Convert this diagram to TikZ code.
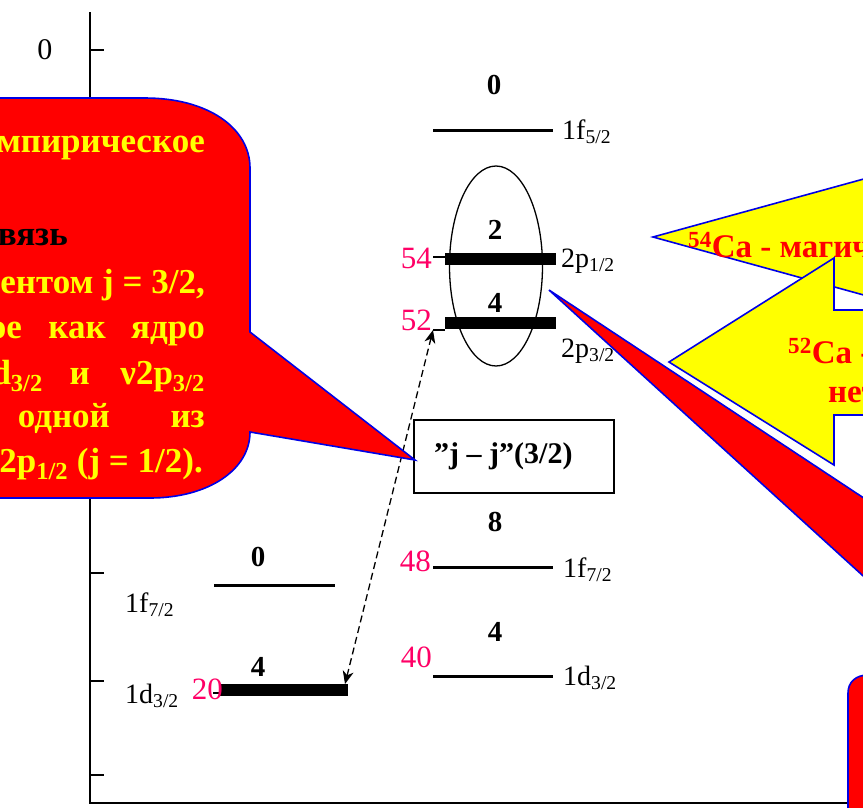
\documentclass[tikz,border=0pt]{standalone}
\usepackage{fontspec}
\setmainfont{Liberation Serif}
\usetikzlibrary{arrows.meta,shapes.geometric}
\definecolor{callred}{RGB}{255,0,0}
\definecolor{callblue}{RGB}{0,0,230}
\definecolor{callyel}{RGB}{255,255,0}
\definecolor{magnum}{RGB}{255,0,102}
\tikzset{
  axisline/.style={line width=1.2pt},
  lvl/.style={line width=3pt},
  lvlbar/.style={line width=12.5pt},
  thinmark/.style={line width=2pt},
  occ/.style={font=\fontsize{29}{30}\selectfont\bfseries, inner sep=0pt},
  lab/.style={font=\fontsize{28}{30}\selectfont, inner sep=0pt, anchor=base west},
  num/.style={font=\fontsize{31}{32}\selectfont, text=magnum, inner sep=0pt, anchor=base east},
  redcall/.style={fill=callred, draw=callblue, line width=1.6pt},
  yelcall/.style={fill=callyel, draw=callblue, line width=1.6pt},
  ctext/.style={font=\fontsize{35}{38}\selectfont\bfseries, text=callyel, inner sep=0pt, anchor=base east},
  ytext/.style={font=\fontsize{33}{35}\selectfont\bfseries, text=callred, inner sep=0pt, anchor=base west},
}
\begin{document}
\begin{tikzpicture}[x=1pt,y=-1pt]
\useasboundingbox (0,0) rectangle (863,807);
\clip (0,0) rectangle (863,807);
\fill[white] (0,0) rectangle (863,807);

% axes
\coordinate (ytop) at (90,12);
\coordinate (orig) at (90,803);
\coordinate (xend) at (870,803);
\draw[axisline] (ytop) -- (orig) -- (xend);
\foreach \yy/\nm in {50/ta,573/tb,681/tc,775/td}{
  \coordinate (\nm1) at (90,\yy);
  \coordinate (\nm2) at (104,\yy);
  \draw[axisline] (\nm1) -- (\nm2);
}
\node[font=\fontsize{30}{32}\selectfont, inner sep=0pt] (zero) at (45,50) {0};

% left column
\node[occ] (lo0) at (258,557) {0};
\coordinate (lf1) at (214,585); \coordinate (lf2) at (335,585);
\draw[lvl] (lf1) -- (lf2);
\node[lab] (lflab) at (125,612) {1f\textsubscript{7/2}};
\node[occ] (lo4) at (258,667) {4};
\coordinate (ld1) at (220,690); \coordinate (ld2) at (348,690);
\draw[lvlbar] (ld1) -- (ld2);
\coordinate (ldm1) at (213,693); \coordinate (ldm2) at (220,693);
\draw[thinmark] (ldm1) -- (ldm2);
\node[num] (n20) at (223,699) {20};
\node[lab] (ldlab) at (125,703) {1d\textsubscript{3/2}};

% right column
\node[occ] (ro0) at (494,85) {0};
\coordinate (rf51) at (433,130); \coordinate (rf52) at (553,130);
\draw[lvl] (rf51) -- (rf52);
\node[lab] (rf5lab) at (562,139) {1f\textsubscript{5/2}};

\node[draw, line width=1.3pt, ellipse, inner sep=0pt, minimum width=93pt, minimum height=200pt] (ell) at (496,266) {};
\node[occ] (ro2) at (495,230) {2};
\coordinate (rp11) at (445,259); \coordinate (rp12) at (556,259);
\draw[lvlbar] (rp11) -- (rp12);
\coordinate (rp1m) at (433,257); \coordinate (rp1m2) at (445,257);
\draw[thinmark] (rp1m) -- (rp1m2);
\node[num] (n54) at (432,268) {54};
\node[lab] (rp1lab) at (561,267) {2p\textsubscript{1/2}};

\node[occ] (ro4) at (495,303) {4};
\coordinate (rp31) at (445,323); \coordinate (rp32) at (556,323);
\draw[lvlbar] (rp31) -- (rp32);
\coordinate (rp3m) at (433,330); \coordinate (rp3m2) at (445,330);
\draw[thinmark] (rp3m) -- (rp3m2);
\node[num] (n52) at (432,330) {52};
\node[lab] (rp3lab) at (561,357) {2p\textsubscript{3/2}};

\node[draw, line width=1.3pt, inner sep=0pt, minimum width=200pt, minimum height=73pt] (jjbox) at (514,456.5) {};
\node[font=\fontsize{30}{32}\selectfont\bfseries, inner sep=0pt, anchor=base west] (jjtext) at (434,463) {”j – j”(3/2)};

\node[occ] (ro8) at (495,522) {8};
\coordinate (rf71) at (433,567); \coordinate (rf72) at (553,567);
\draw[lvl] (rf71) -- (rf72);
\node[num] (n48) at (431,571) {48};
\node[lab] (rf7lab) at (563,577) {1f\textsubscript{7/2}};

\node[occ] (ro4b) at (495,632) {4};
\coordinate (rd1) at (433,676); \coordinate (rd2) at (553,676);
\draw[lvl] (rd1) -- (rd2);
\node[num] (n40) at (432,667) {40};
\node[lab] (rdlab) at (563,685) {1d\textsubscript{3/2}};

% dashed double arrow
\coordinate (arrA) at (433,330);
\coordinate (arrB) at (345,684);
\draw[dash pattern=on 7pt off 4pt, line width=1.3pt, {Stealth[length=13pt,width=11pt,inset=4pt]}-{Stealth[length=13pt,width=11pt,inset=4pt]}] (arrB) -- (arrA);

% left red callout
\coordinate (ltip) at (415,460);
\draw[redcall] (-60,98) -- (145,98) .. controls (208,98) and (250,128) .. (250,168)
  -- (250,332) -- (ltip) -- (250,432) .. controls (250,470) and (208,498) .. (150,498)
  -- (-60,498) -- cycle;
\node[ctext] (c1) at (205,152) {мпирическое};
\node[ctext, text=black] (c2) at (68,245) {вязь};
\node[ctext] (c3) at (205,293) {ентом j = 3/2,};
\node[ctext] (c4a) at (22,338) {ое};
\node[ctext] (c4b) at (106,338) {как};
\node[ctext] (c4c) at (205,338) {ядро};
\node[ctext] (c5a) at (43,384) {d\textsubscript{3/2}};
\node[ctext] (c5b) at (90,384) {и};
\node[ctext] (c5c) at (205,384) {ν2p\textsubscript{3/2}};
\node[ctext] (c6a) at (110,427) {одной};
\node[ctext] (c6b) at (205,427) {из};
\node[ctext] (c7) at (203,472) {2p\textsubscript{1/2} (j = 1/2).};

% red wedge callout (lower right)
\coordinate (rtip) at (549,290);
\draw[redcall] (rtip) -- (950,555) -- (950,655) -- cycle;
\draw[redcall] (848,900) -- (848,693) .. controls (848,682) and (856,675) .. (868,675)
  -- (950,675) -- (950,900) -- cycle;

% yellow callouts
\coordinate (y1tip) at (653,237);
\draw[yelcall] (y1tip) -- (900,169) -- (900,305) -- cycle;
\node[ytext] (y1t) at (688,257) {\textsuperscript{54}Ca - магиче};
\coordinate (y2tip) at (669,362);
\draw[yelcall] (y2tip) -- (834,258) -- (834,310) -- (900,310) -- (900,415)
  -- (834,415) -- (834,465) -- cycle;
\node[ytext] (y2t) at (788,363) {\textsuperscript{52}Ca -};
\node[ytext] (y2u) at (828,402) {нет};
\end{tikzpicture}
\end{document}
